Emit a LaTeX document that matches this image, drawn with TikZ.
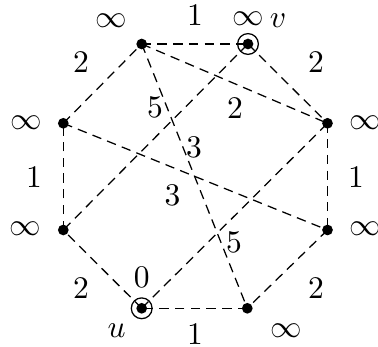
\documentclass[tikz,border=0pt]{standalone}
\begin{document}
\begin{tikzpicture}[x=0.3175pt,y=-0.3175pt,
  edgeline/.style={draw=black,line width=0.4pt,dash pattern=on 3pt off 2pt},
  lbl/.style={inner sep=0pt,outer sep=0pt,font=\normalsize},
  dotv/.style={fill=black},
  ringv/.style={draw=black,line width=0.4pt}]
\useasboundingbox (0,0) rectangle (378,347);
% vertices
\coordinate (A) at (141.7,44);
\coordinate (B) at (248,44);
\coordinate (C) at (327.5,123.3);
\coordinate (D) at (327.5,230);
\coordinate (E) at (247.3,308.3);
\coordinate (F) at (141.7,308.3);
\coordinate (G) at (63.3,230);
\coordinate (H) at (63.3,123.3);
% edges
\draw[edgeline] (A) -- (B);
\draw[edgeline] (B) -- (C);
\draw[edgeline] (C) -- (D);
\draw[edgeline] (D) -- (E);
\draw[edgeline] (E) -- (F);
\draw[edgeline] (F) -- (G);
\draw[edgeline] (G) -- (H);
\draw[edgeline] (H) -- (A);
\draw[edgeline] (A) -- (C);
\draw[edgeline] (A) -- (E);
\draw[edgeline] (B) -- (G);
\draw[edgeline] (F) -- (C);
\draw[edgeline] (H) -- (D);
% dots
\foreach \v in {A,B,C,D,E,F,G,H} \fill[dotv] (\v) circle (1.7pt);
\draw[ringv] (B) circle (3.3pt);
\draw[ringv] (F) circle (3.3pt);
% weights
\node[lbl] (wAB) at (195,15.5) {$1$};
\node[lbl] (wBC) at (316,62.5) {$2$};
\node[lbl] (wCD) at (356,177) {$1$};
\node[lbl] (wDE) at (316,288) {$2$};
\node[lbl] (wEF) at (195,334) {$1$};
\node[lbl] (wFG) at (81,288) {$2$};
\node[lbl] (wGH) at (34,177) {$1$};
\node[lbl] (wHA) at (81,62.5) {$2$};
\node[lbl] (wAC) at (235,108) {$2$};
\node[lbl] (wBG) at (155,107.5) {$5$};
\node[lbl] (wAE) at (194,147.5) {$3$};
\node[lbl] (wHD) at (172.5,195.8) {$3$};
\node[lbl] (wFC) at (234,242.5) {$5$};
% distances
\node[lbl] (dA) at (111,21) {$\infty$};
\node[lbl] (dB) at (248,19) {$\infty$};
\node[lbl] (nv) at (278,21) {$v$};
\node[lbl] (dC) at (365,122.5) {$\infty$};
\node[lbl] (dD) at (365,229) {$\infty$};
\node[lbl] (dE) at (286,330.8) {$\infty$};
\node[lbl] (dF) at (141.7,277.5) {$0$};
\node[lbl] (nu) at (116.7,330.8) {$u$};
\node[lbl] (dG) at (25,229.2) {$\infty$};
\node[lbl] (dH) at (26,122.5) {$\infty$};
\end{tikzpicture}
\end{document}
